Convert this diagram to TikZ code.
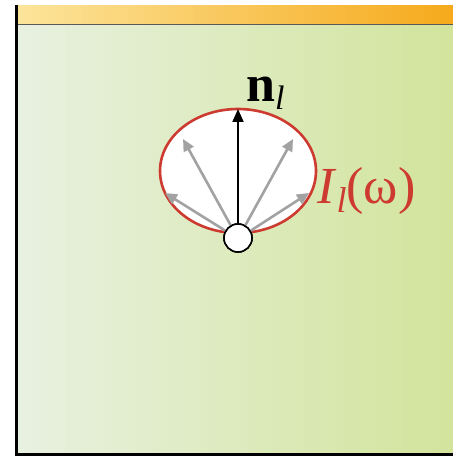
\documentclass[tikz,border=0pt]{standalone}
\usepackage{fontspec}
\setmainfont{Liberation Serif}
\usetikzlibrary{shapes.geometric,arrows.meta}
\definecolor{lobered}{HTML}{CC3A30}
\definecolor{raygray}{HTML}{A2A2A2}
\definecolor{bgleft}{HTML}{E8F1E0}
\definecolor{bgright}{HTML}{D2E49C}
\definecolor{barleft}{HTML}{FCE49A}
\definecolor{barright}{HTML}{F6AA1C}
\tikzset{
  ray/.style={draw=raygray, line width=2.6pt, -{Triangle[length=12pt,width=11pt]}},
  normal/.style={draw=black, line width=2pt, -{Triangle[length=13pt,width=11pt]}},
  lbl/.style={inner sep=0pt, font=\fontsize{52}{56}\selectfont},
  src/.style={circle, draw=black, line width=1.6pt, fill=white, minimum size=28pt, inner sep=0pt},
}
\begin{document}
\begin{tikzpicture}[x=1pt,y=-1pt]
\useasboundingbox (0,0) rectangle (453,457);
\fill[white] (0,0) rectangle (453,457);
% background and top bar as strips
\foreach \i in {0,...,54}{
  \pgfmathsetmacro{\p}{\i/54*100}
  \pgfmathsetmacro{\xa}{17+\i*8}
  \pgfmathsetmacro{\xb}{min(17+\i*8+8.6,453)}
  \fill[bgright!\p!bgleft] (\xa,25) rectangle (\xb,453);
  \fill[barright!\p!barleft] (\xa,5) rectangle (\xb,24);
}
\draw[draw=gray!70!black, line width=1.5pt] (17,24.5) -- (453,24.5);
% frame lines
\draw[line width=3pt] (16,5) -- (16,454) -- (453,454);
% lobe
\node[ellipse, draw=lobered, line width=2.6pt, fill=white, minimum width=156pt, minimum height=124pt, inner sep=0pt] (lobe) at (238,171) {};
% named tips
\coordinate (t1) at (165,193);
\coordinate (t2) at (183,139);
\coordinate (t3) at (293,139);
\coordinate (t4) at (309,193);
\coordinate (top) at (238,109);
% source
\node[src] (src) at (238,238) {};
\draw[ray] (src.150) -- (t1);
\draw[ray] (src.120) -- (t2);
\draw[ray] (src.60) -- (t3);
\draw[ray] (src.30) -- (t4);
\draw[normal] (src.north) -- (top);
\node[src] (srcf) at (src) {};
% labels
\node[lbl, anchor=base west] (nl) at (246,102) {\textbf{n}\raisebox{-8pt}{\fontsize{34}{36}\selectfont\textit{l}}};
\node[lbl, anchor=base west, text=lobered] (il) at (317,203) {\textit{I}\raisebox{-9pt}{\fontsize{36}{38}\selectfont\textit{l}}(ω)};
\end{tikzpicture}
\end{document}
